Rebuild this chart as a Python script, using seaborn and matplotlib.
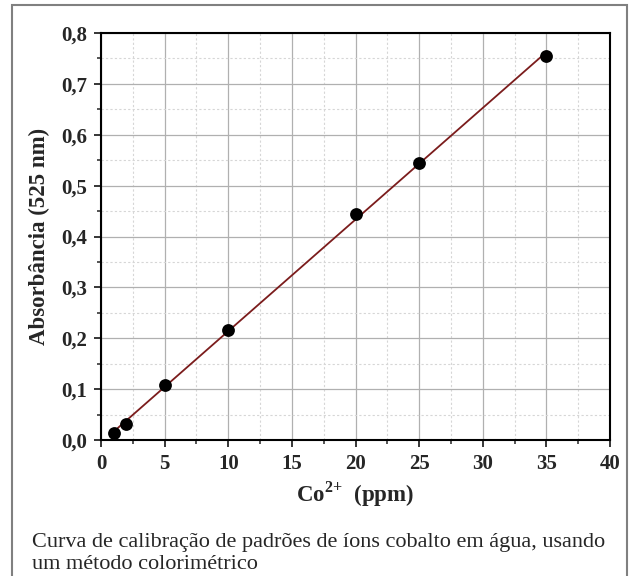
import numpy as np
import pandas as pd
import seaborn as sns
import matplotlib.pyplot as plt
from matplotlib.patches import Rectangle
from matplotlib.ticker import MultipleLocator

# calibration data
conc_ppm = [1, 2, 5, 10, 20, 25, 35]
absorb = [0.014, 0.031, 0.108, 0.216, 0.444, 0.544, 0.755]

x_ticks = [0, 5, 10, 15, 20, 25, 30, 35, 40]
y_ticks = [0.0, 0.1, 0.2, 0.3, 0.4, 0.5, 0.6, 0.7, 0.8]
y_tick_labels = ['0,0', '0,1', '0,2', '0,3', '0,4', '0,5', '0,6', '0,7', '0,8']

caption = ("Curva de calibração de padrões de íons cobalto em água, usando\n"
           "um método colorimétrico")

df = pd.DataFrame({'conc': conc_ppm, 'abs': absorb})

sns.set_style('white')
plt.rcParams['font.family'] = ['Liberation Serif', 'DejaVu Serif']
plt.rcParams['mathtext.fontset'] = 'custom'
plt.rcParams['mathtext.rm'] = 'Liberation Serif'
plt.rcParams['mathtext.bf'] = 'Liberation Serif:bold'

fig = plt.figure(figsize=(6.29, 5.76), dpi=100)
ax = fig.add_axes([101 / 629, 1 - 440 / 576, 509 / 629, 407 / 576])

# outer frame of the figure panel
fig.patches.append(Rectangle((12 / 629, -0.05), 615 / 629, 1.05 - 5 / 576,
                             transform=fig.transFigure, fill=False,
                             edgecolor='#808080', linewidth=1.5))

sns.regplot(data=df, x='conc', y='abs', ax=ax, ci=None, truncate=True,
            scatter_kws={'s': 85, 'color': 'black', 'alpha': 1, 'zorder': 4,
                         'linewidths': 0},
            line_kws={'color': '#7b1c1c', 'linewidth': 1.3, 'zorder': 3})

ax.set_xlim(0, 40)
ax.set_ylim(0, 0.8)
ax.set_xticks(x_ticks)
ax.set_yticks(y_ticks)
ax.set_yticklabels(y_tick_labels)
ax.xaxis.set_minor_locator(MultipleLocator(2.5))
ax.yaxis.set_minor_locator(MultipleLocator(0.05))

ax.grid(True, which='major', color='#b0b0b0', linewidth=0.9, linestyle='-')
ax.grid(True, which='minor', color='#d6d6d6', linewidth=0.8, linestyle=(0, (2, 2)))
ax.set_axisbelow(True)

for side in ['left', 'bottom', 'right', 'top']:
    ax.spines[side].set_visible(True)
    ax.spines[side].set_color('black')
    ax.spines[side].set_linewidth(1.5)

ax.tick_params(which='major', direction='out', length=5, width=1.3,
               labelsize=15, pad=5, bottom=True, left=True)
ax.tick_params(which='minor', direction='out', length=3, width=1.1,
               bottom=True, left=True)
for lab in ax.get_xticklabels() + ax.get_yticklabels():
    lab.set_fontweight('bold')

ax.set_xlabel(r'Co$^{\mathbf{2{+}}}$  (ppm)', fontsize=16.5, fontweight='bold', labelpad=4)
ax.set_ylabel('Absorbância (525 nm)', fontsize=16.5, fontweight='bold', labelpad=8)

fig.text(32 / 629, 1 - 533 / 576, caption, fontsize=16, ha='left', va='top',
         linespacing=1.2)

fig.savefig('out.png', dpi=100)
